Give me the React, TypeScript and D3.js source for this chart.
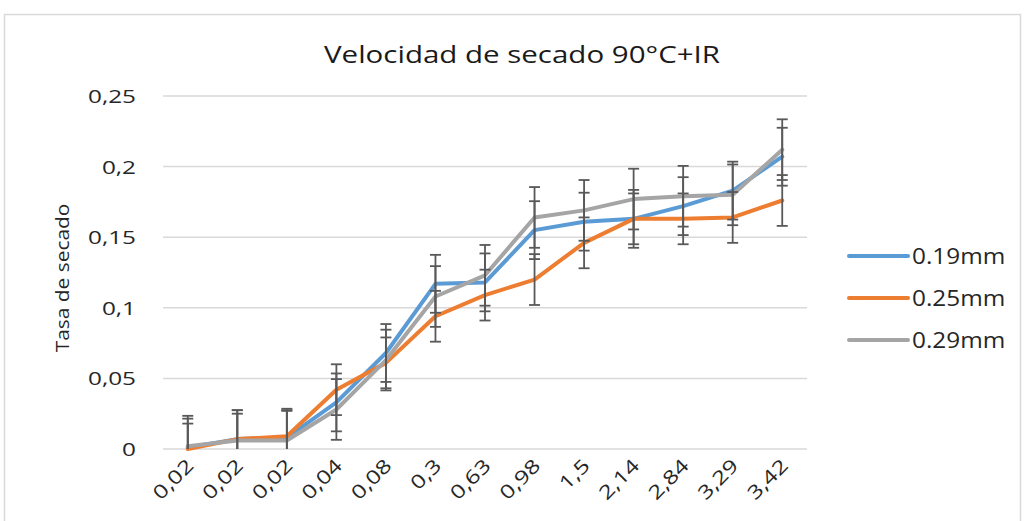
import React from "react";
import * as d3 from "d3";

const categories = ["0,02", "0,02", "0,02", "0,04", "0,08", "0,3", "0,63", "0,98", "1,5", "2,14", "2,84", "3,29", "3,42"];
const seriesNames = ["0.19mm", "0.25mm", "0.29mm"];
const values019 = [0.001, 0.007, 0.008, 0.033, 0.068, 0.117, 0.118, 0.155, 0.161, 0.163, 0.172, 0.183, 0.207];
const values025 = [0.0, 0.007, 0.009, 0.042, 0.061, 0.094, 0.109, 0.12, 0.146, 0.163, 0.163, 0.164, 0.176];
const values029 = [0.002, 0.006, 0.006, 0.028, 0.063, 0.108, 0.123, 0.164, 0.169, 0.177, 0.179, 0.18, 0.212];
const errors019 = [0.0205, 0.0205, 0.0205, 0.0205, 0.0205, 0.0205, 0.0205, 0.0205, 0.0205, 0.0205, 0.0205, 0.0205, 0.0205];
const errors025 = [0.018, 0.018, 0.018, 0.018, 0.018, 0.018, 0.018, 0.018, 0.018, 0.018, 0.018, 0.018, 0.018];
const errors029 = [0.0215, 0.0215, 0.0215, 0.0215, 0.0215, 0.0215, 0.0215, 0.0215, 0.0215, 0.0215, 0.0215, 0.0215, 0.0215];
const yTicks = [0, 0.05, 0.1, 0.15, 0.2, 0.25];
const yTickLabels = ["0", "0,05", "0,1", "0,15", "0,2", "0,25"];
const colors = ["#5B9BD5", "#ED7D31", "#A5A5A5"];

const series = [
  { name: seriesNames[0], values: values019, errors: errors019, color: colors[0] },
  { name: seriesNames[1], values: values025, errors: errors025, color: colors[1] },
  { name: seriesNames[2], values: values029, errors: errors029, color: colors[2] },
];

export default function App() {
  const W = 1024, H = 521;
  const left = 163, right = 807, top = 96, bottom = 449;
  const font = "'Open Sans', 'Liberation Sans', sans-serif";
  const x = d3.scaleBand<number>().domain(categories.map((_, i) => i)).range([left, right]).padding(0);
  const cx = (i: number) => (x(i) as number) + x.bandwidth() / 2;
  const y = d3.scaleLinear().domain([0, 0.25]).range([bottom, top]);
  const line = d3.line<number>().x((_, i) => cx(i)).y((v) => y(v));
  const capW = 5.5;
  const sx = 1.28;

  return (
    <svg width={W} height={H} style={{ position: "absolute", left: 0, top: 0, background: "#fff" }} fontFamily={font}>
      <rect x={0} y={0} width={W} height={H} fill="#fff" />
      <rect x={4.5} y={14.5} width={1016} height={520} fill="#fff" stroke="#d9d9d9" strokeWidth={1.5} />
      <text x={522} y={63} textAnchor="middle" fontSize={23} fill="#1a1a1a" textLength={396} lengthAdjust="spacingAndGlyphs">
        Velocidad de secado 90°C+IR
      </text>
      {yTicks.map((t, i) => (
        <g key={i}>
          <line x1={left} x2={right} y1={y(t)} y2={y(t)} stroke="#d9d9d9" strokeWidth={1.5} />
          <text transform={`translate(136,${y(t) + 7}) scale(${sx},1)`} textAnchor="end" fontSize={19} fill="#262626">
            {yTickLabels[i]}
          </text>
        </g>
      ))}
      <text transform={`translate(69,${278}) rotate(-90) scale(1.1,1)`} textAnchor="middle" fontSize={19} fill="#262626">
        Tasa de secado
      </text>
      {categories.map((c, i) => (
        <text key={i} transform={`translate(${cx(i) + 7},${467}) rotate(-45) scale(${sx},1)`} textAnchor="end" fontSize={19} fill="#262626">
          {c}
        </text>
      ))}
      <defs>
        <clipPath id="plotClip">
          <rect x={left - 20} y={0} width={right - left + 40} height={bottom} />
        </clipPath>
      </defs>
      {series.map((s) => (
        <path key={s.name} d={line(s.values) || ""} fill="none" stroke={s.color} strokeWidth={4} strokeLinejoin="round" strokeLinecap="round" />
      ))}
      <g clipPath="url(#plotClip)" stroke="#595959" strokeWidth={1.8}>
        {series.map((s) =>
          s.values.map((v, i) => {
            const xx = cx(i);
            const y1 = y(v + s.errors[i]);
            const y2 = y(Math.max(0, v - s.errors[i]));
            return (
              <g key={s.name + i}>
                <line x1={xx} x2={xx} y1={y1} y2={y2} />
                <line x1={xx - capW} x2={xx + capW} y1={y1} y2={y1} />
                {v - s.errors[i] > 0 && <line x1={xx - capW} x2={xx + capW} y1={y2} y2={y2} />}
              </g>
            );
          })
        )}
      </g>
      {series.map((s, i) => (
        <g key={s.name}>
          <line x1={849} x2={908} y1={256 + i * 42} y2={256 + i * 42} stroke={s.color} strokeWidth={4} strokeLinecap="round" />
          <text transform={`translate(912,${256 + i * 42 + 7.5}) scale(1.16,1)`} fontSize={21} fill="#262626">
            {s.name}
          </text>
        </g>
      ))}
    </svg>
  );
}
